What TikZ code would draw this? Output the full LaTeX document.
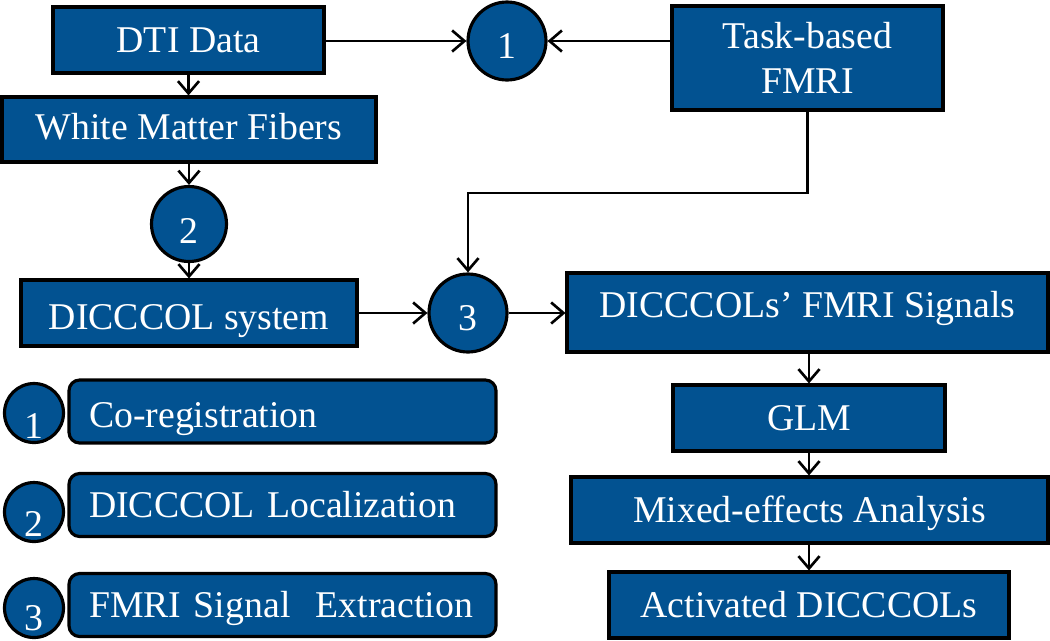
\documentclass[tikz,border=0pt]{standalone}
\usepackage{fontspec}
\setmainfont{Liberation Serif}
\usetikzlibrary{arrows.meta}
\definecolor{dblue}{RGB}{2,82,145}
\begin{document}
\begin{tikzpicture}[x=0.02cm,y=-0.02cm,
  txt/.style={font=\fontsize{21.5}{26}\selectfont},
  box/.style={txt,draw=black,line width=1.8pt,fill=dblue,text=white,inner sep=0pt,align=center},
  one/.style={text height=14.2pt,text depth=0pt},
  circ/.style={txt,circle,draw=black,line width=1.8pt,fill=dblue,text=white,inner sep=0pt,minimum size=1.56cm,text height=19.5pt,text depth=0pt},
  lbox/.style={box,rounded corners=6pt,minimum width=8.54cm,minimum height=1.26cm,text width=7.74cm,align=left,text height=14.2pt,text depth=0pt},
  lcirc/.style={circle,draw=black,line width=1.8pt,fill=dblue,inner sep=0pt,minimum size=1.18cm},
  ldigit/.style={txt,text=white,inner sep=0pt},
  arr/.style={line width=1.5pt,-{Straight Barb[length=7pt,width=12pt,line width=1.5pt]}},
]
\useasboundingbox (0,0) rectangle (1050,640);

% main flow
\node[box,one,minimum width=5.42cm,minimum height=1.32cm] (dti) at (188.5,40) {DTI Data};
\node[box,one,minimum width=7.48cm,minimum height=1.30cm,text depth=3pt] (wmf) at (189,129.5) {White Matter Fibers};
\node[circ] (c1) at (507,41) {1};
\node[box,minimum width=5.42cm,minimum height=2.08cm] (task) at (807.5,58) {Task-based\\FMRI};
\node[circ,minimum size=1.5cm,text height=22pt] (c2) at (189,224) {2};
\node[box,one,minimum width=6.72cm,minimum height=1.32cm,text height=18.8pt] (sys) at (189,313) {DICCCOL system};
\node[circ] (c3) at (468,313) {3};
\node[box,one,minimum width=9.62cm,minimum height=1.58cm,text depth=8pt] (sig) at (807.5,312.5) {DICCCOLs’ FMRI Signals};
\node[box,one,minimum width=5.44cm,minimum height=1.32cm] (glm) at (809,418) {GLM};
\node[box,one,minimum width=9.54cm,minimum height=1.32cm] (mix) at (809.5,510) {Mixed-effects Analysis};
\node[box,one,minimum width=8cm,minimum height=1.32cm] (act) at (809,605) {Activated DICCCOLs};

% connectors
\draw[arr] (dti.east |- c1) -- (c1.west);
\draw[arr] (task.west |- c1) -- (c1.east);
\draw[arr] (dti.south) -- (dti.south |- wmf.north);
\draw[arr] (wmf.south) -- (c2.north);
\draw[arr] (c2.south) -- (sys.north);
\draw[arr] (sys.east) -- (c3.west);
\coordinate (bend) at (468,193);
\draw[arr] (task.south) |- (bend) -- (c3.north);
\draw[arr] (c3.east) -- (sig.west |- c3);
\draw[arr] (glm.north |- sig.south) -- (glm.north);
\draw[arr] (glm.south) -- (glm.south |- mix.north);
\draw[arr] (act.north |- mix.south) -- (act.north);

% legend
\node[lcirc] (l1) at (34,413) {};
\node[ldigit] (l1t) at (34,426.5) {1};
\node[lbox,text height=18.2pt] (lb1) at (282.5,411.5) {Co-registration};
\node[lcirc] (l2) at (34,512) {};
\node[ldigit] (l2t) at (34,523.5) {2};
\node[lbox] (lb2) at (282.5,505) {DICCCOL Localization};
\node[lcirc] (l3) at (34,608) {};
\node[ldigit] (l3t) at (34,618.5) {3};
\node[lbox] (lb3) at (282.5,605) {FMRI Signal~ Extraction};
\end{tikzpicture}
\end{document}
